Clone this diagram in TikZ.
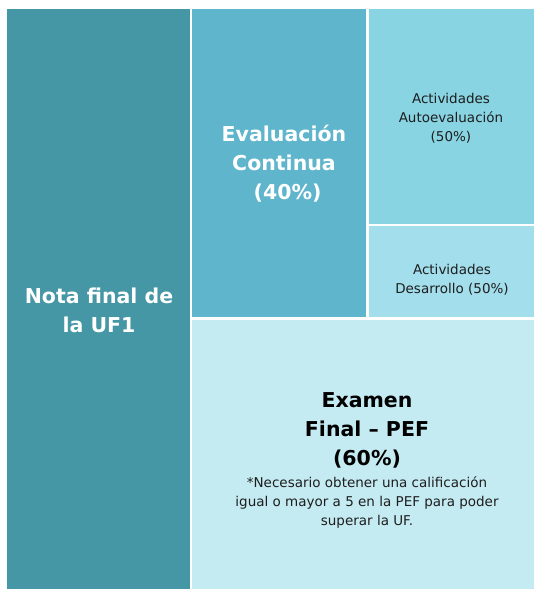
\documentclass[tikz,border=0pt]{standalone}
\usepackage{fontspec}
\setmainfont{DejaVu Sans}
\definecolor{notacol}{RGB}{69,151,165}
\definecolor{contcol}{RGB}{95,181,204}
\definecolor{autocol}{RGB}{136,212,226}
\definecolor{desacol}{RGB}{163,222,236}
\definecolor{examcol}{RGB}{197,235,242}
\definecolor{txtcol}{RGB}{30,30,30}

\begin{document}
\begin{tikzpicture}[x=1pt,y=-1pt,
  bigtext/.style={align=center,font=\fontsize{20.5}{29}\selectfont\bfseries},
  smalltext/.style={align=center,text=txtcol,font=\fontsize{13.5}{19}\selectfont}]

\useasboundingbox (0,0) rectangle (534,589);

% boxes
\fill[notacol] (7,9) rectangle (190,589);
\fill[contcol] (192,9) rectangle (366,317);
\fill[autocol] (369,9) rectangle (534,224);
\fill[desacol] (369,226) rectangle (534,317);
\fill[examcol] (192,320) rectangle (534,589);

% labels
\node[bigtext,text=white] (nota) at (99,310) {Nota final de\\la UF1};
\node[bigtext,text=white] (cont) at (284,164) {Evaluación\\Continua\\\ (40\%)};
\node[smalltext] (auto) at (451,118) {Actividades\\Autoevaluación\\(50\%)};
\node[smalltext] (desa) at (452,280) {Actividades\\Desarrollo (50\%)};
\node[bigtext,text=black] (exam) at (367,430) {Examen\\Final -- PEF\\(60\%)};
\node[smalltext,below=2pt] (nota2) at (exam.south) {*Necesario obtener una calificación\\igual o mayor a 5 en la PEF para poder\\superar la UF.};

\end{tikzpicture}
\end{document}
